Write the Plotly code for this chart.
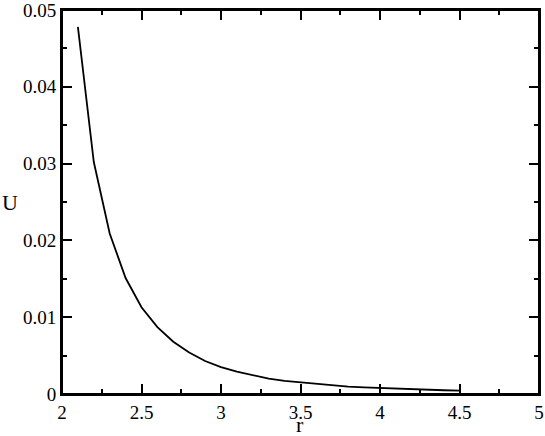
import plotly.graph_objects as go

r = [2.1, 2.2, 2.3, 2.4, 2.5, 2.6, 2.7, 2.8, 2.9, 3.0,
     3.1, 3.2, 3.3, 3.4, 3.5, 3.6, 3.7, 3.8, 3.9, 4.0,
     4.1, 4.2, 4.3, 4.4, 4.5]
U = [0.0478, 0.0302, 0.0209, 0.0151, 0.0113, 0.0087, 0.0068, 0.0054, 0.0043, 0.0035,
     0.0029, 0.0024, 0.0020, 0.0017, 0.0015, 0.0013, 0.0011, 0.00097, 0.00086, 0.00077,
     0.00069, 0.00061, 0.00055, 0.00049, 0.00044]

x_ticks = [2, 2.5, 3, 3.5, 4, 4.5, 5]
x_labels = ['2', '2.5', '3', '3.5', '4', '4.5', '5']
y_ticks = [0, 0.01, 0.02, 0.03, 0.04, 0.05]
y_labels = ['0', '0.01', '0.02', '0.03', '0.04', '0.05']

font = dict(family='Liberation Serif', size=19, color='black')
label_font = dict(family='Liberation Serif', size=22, color='black')

fig = go.Figure()
fig.add_trace(go.Scatter(x=r, y=U, mode='lines',
                         line=dict(color='black', width=1.8), showlegend=False))

axis_common = dict(
    showgrid=False, zeroline=False, showline=True, linecolor='black', linewidth=2,
    mirror='ticks', ticks='inside', ticklen=10, tickwidth=2, tickcolor='black',
    tickfont=font, automargin=False, ticklabeloverflow='allow',
)

fig.update_xaxes(range=[2, 5], tickvals=x_ticks, ticktext=x_labels, ticklabelstandoff=0,
                 minor=dict(ticks='inside', ticklen=5, tickwidth=2, tickcolor='black', dtick=0.25),
                 **axis_common)
fig.update_yaxes(range=[0, 0.05], tickvals=y_ticks, ticktext=y_labels,
                 minor=dict(ticks='inside', ticklen=5, tickwidth=2, tickcolor='black', dtick=0.005),
                 **axis_common)

# frame around the plot area
fig.add_shape(type='rect', xref='paper', yref='paper', x0=0, y0=0, x1=1, y1=1,
              line=dict(color='black', width=2), layer='above')

plot_w, plot_h = 477, 384
fig.add_annotation(text='U', xref='paper', yref='paper', x=(10 - 62) / plot_w, y=(394 - 202) / plot_h,
                   xanchor='center', yanchor='middle', showarrow=False, font=label_font)
fig.add_annotation(text='r', xref='paper', yref='paper', x=(300 - 62) / plot_w, y=(394 - 424) / plot_h,
                   xanchor='center', yanchor='middle', showarrow=False, font=label_font)

fig.update_layout(width=545, height=436, paper_bgcolor='white', plot_bgcolor='white',
                  margin=dict(l=62, r=6, t=10, b=42), font=font)

fig.write_html("out.html", config={'displayModeBar': False},
               post_script="document.body.style.margin='0';")
